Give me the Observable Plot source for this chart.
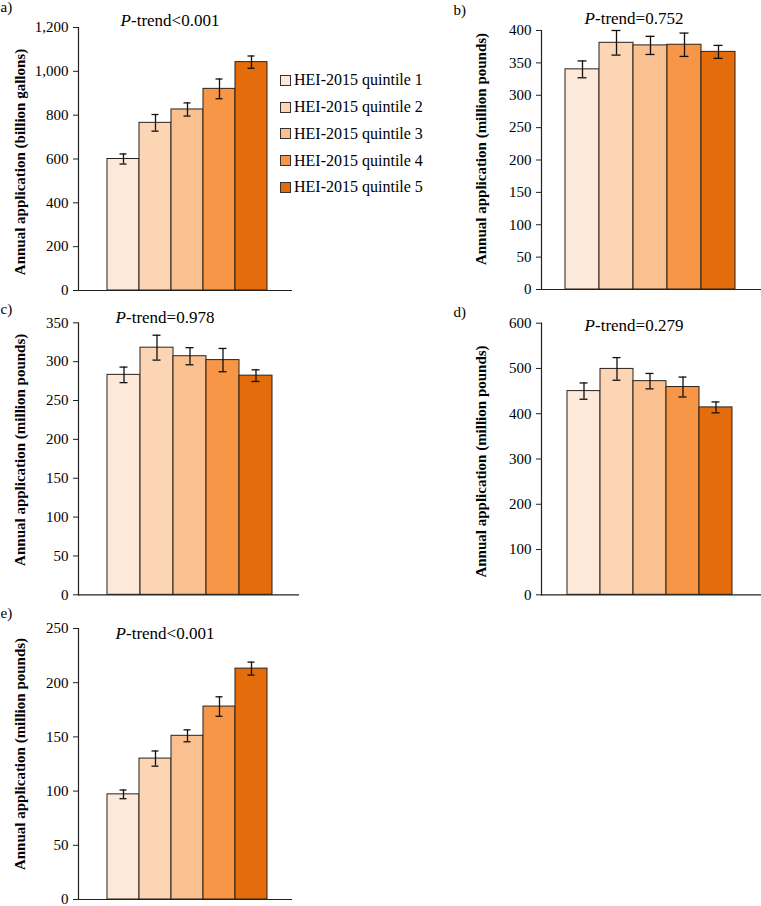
<!DOCTYPE html>
<html>
<head>
<meta charset="utf-8">
<script src="https://cdn.jsdelivr.net/npm/d3@7"></script>
<script src="https://cdn.jsdelivr.net/npm/@observablehq/plot@0.6"></script>
<style>
  html, body { margin: 0; padding: 0; background: #fff; }
  #wrap { position: relative; width: 761px; height: 906px; font-family: "Liberation Serif", "Times New Roman", serif; }
  #wrap svg { position: absolute; overflow: visible; }
  .legend { position: absolute; left: 280px; top: 67px; font-size: 16px; color: #000; }
  .legend .row { display: flex; align-items: center; height: 26.75px; }
  .legend .sw { width: 9px; height: 9px; border: 1px solid #333; margin-right: 3px; box-sizing: content-box; }
</style>
</head>
<body>
<div id="wrap"></div>
<script>
const categories = ["HEI-2015 quintile 1", "HEI-2015 quintile 2", "HEI-2015 quintile 3", "HEI-2015 quintile 4", "HEI-2015 quintile 5"];
const colors = ["#FDE9D9", "#FCD5B5", "#FAC090", "#F79646", "#E46C0A"];

const panelLetters = ["a)", "b)", "c)", "d)", "e)"];
const pTrends = ["-trend<0.001", "-trend=0.752", "-trend=0.978", "-trend=0.279", "-trend<0.001"];
const yTitles = [
  "Annual application (billion gallons)",
  "Annual application (million pounds)",
  "Annual application (million pounds)",
  "Annual application (million pounds)",
  "Annual application (million pounds)"
];

const aValues = [600, 765, 826, 920, 1042];
const aErrors = [23, 38, 30, 45, 28];
const aTicks = [0, 200, 400, 600, 800, 1000, 1200];

const bValues = [340, 381, 377, 378, 367];
const bErrors = [13, 19, 14, 18, 10];
const bTicks = [0, 50, 100, 150, 200, 250, 300, 350, 400];

const cValues = [283, 318, 307, 302, 282];
const cErrors = [10, 16, 11, 15, 7.5];
const cTicks = [0, 50, 100, 150, 200, 250, 300, 350];

const dValues = [450, 499, 472, 459, 414];
const dErrors = [18, 25, 17, 22, 12];
const dTicks = [0, 100, 200, 300, 400, 500, 600];

const eValues = [97, 130, 151, 178, 213];
const eErrors = [4, 7, 5.5, 9, 6];
const eTicks = [0, 50, 100, 150, 200, 250];

const wrap = document.getElementById("wrap");

function panel(cfg) {
  const rows = categories.map((c, i) => ({cat: c, value: cfg.values[i], lo: cfg.values[i] - cfg.errors[i], hi: cfg.values[i] + cfg.errors[i]}));
  const font = '"Liberation Serif", "Times New Roman", serif';
  const svg = Plot.plot({
    width: cfg.width,
    height: cfg.height,
    marginLeft: cfg.ml,
    marginRight: cfg.mr,
    marginTop: cfg.mt,
    marginBottom: cfg.mb,
    style: {fontFamily: font, fontSize: "15px", color: "#000", background: "transparent", overflow: "visible"},
    x: {type: "band", domain: categories, range: cfg.xr, paddingInner: 0, paddingOuter: 0, axis: null},
    y: {domain: [0, cfg.ticks[cfg.ticks.length - 1]]},
    color: {domain: categories, range: colors},
    marks: [
      Plot.barY(rows, {x: "cat", y: "value", fill: "cat", stroke: "#2b2118", strokeWidth: 1, inset: 0}),
      Plot.ruleX(rows, {x: "cat", y1: "lo", y2: "hi", stroke: "#111", strokeWidth: 1.3}),
      Plot.tickY(rows, {x: "cat", y: "lo", stroke: "#111", strokeWidth: 1.3, insetLeft: 12.5, insetRight: 12.5}),
      Plot.tickY(rows, {x: "cat", y: "hi", stroke: "#111", strokeWidth: 1.3, insetLeft: 12.5, insetRight: 12.5}),
      Plot.ruleY([0], {stroke: "#222", strokeWidth: 1.2}),
      Plot.frame({anchor: "left", stroke: "#222", strokeWidth: 1.2}),
      Plot.axisY({ticks: cfg.ticks, tickSize: 5, tickPadding: 5, label: null, fontSize: 15, stroke: "#222", tickFormat: d3.format(",")}),
      Plot.text([cfg.letter], {text: d => d, frameAnchor: "top-left", textAnchor: "start", lineAnchor: "middle", dx: cfg.letterDx, dy: cfg.letterDy, fontSize: 15}),
      Plot.text(["P"], {text: d => d, frameAnchor: "top-left", textAnchor: "start", lineAnchor: "middle", dx: cfg.pDx, dy: cfg.pDy, fontSize: 17, fontStyle: "italic"}),
      Plot.text([cfg.ptrend], {text: d => d, frameAnchor: "top-left", textAnchor: "start", lineAnchor: "middle", dx: cfg.pDx + 10.5, dy: cfg.pDy, fontSize: 17}),
      Plot.text([cfg.title], {text: d => d, frameAnchor: "left", textAnchor: "middle", lineAnchor: "middle", rotate: -90, dx: cfg.tDx, dy: cfg.tDy, fontSize: 15, fontWeight: "bold"})
    ]
  });
  svg.style.left = cfg.left + "px";
  svg.style.top = cfg.top + "px";
  wrap.appendChild(svg);
}

panel({values: aValues, errors: aErrors, ticks: aTicks, letter: panelLetters[0], ptrend: pTrends[0], title: yTitles[0],
  left: 0, top: 0, width: 380, height: 300, ml: 78, mr: 88, mt: 27, mb: 10, xr: [105, 268],
  letterDx: -78, letterDy: -20, pDx: 42, pDy: -7, tDx: -58, tDy: 3});
panel({values: bValues, errors: bErrors, ticks: bTicks, letter: panelLetters[1], ptrend: pTrends[1], title: yTitles[1],
  left: 380, top: 0, width: 381, height: 300, ml: 161, mr: 0, mt: 30, mb: 11, xr: [185, 355],
  letterDx: -88, letterDy: -20, pDx: 43, pDy: -12, tDx: -60, tDy: -11});
panel({values: cValues, errors: cErrors, ticks: cTicks, letter: panelLetters[2], ptrend: pTrends[2], title: yTitles[2],
  left: 0, top: 300, width: 380, height: 300, ml: 78, mr: 81, mt: 22.3, mb: 5.7, xr: [105, 274],
  letterDx: -78, letterDy: -14, pDx: 37, pDy: -5, tDx: -58, tDy: -9});
panel({values: dValues, errors: dErrors, ticks: dTicks, letter: panelLetters[3], ptrend: pTrends[3], title: yTitles[3],
  left: 380, top: 300, width: 381, height: 300, ml: 161, mr: 0, mt: 22.7, mb: 5.7, xr: [186, 353],
  letterDx: -88, letterDy: -10.7, pDx: 43, pDy: 2, tDx: -60, tDy: 2.5});
panel({values: eValues, errors: eErrors, ticks: eTicks, letter: panelLetters[4], ptrend: pTrends[4], title: yTitles[4],
  left: 0, top: 600, width: 380, height: 306, ml: 78, mr: 88, mt: 28, mb: 7, xr: [105, 268],
  letterDx: -78, letterDy: -15, pDx: 37, pDy: 5, tDx: -58, tDy: -10});

// Legend
const legend = document.createElement("div");
legend.className = "legend";
categories.forEach((c, i) => {
  const row = document.createElement("div");
  row.className = "row";
  const sw = document.createElement("span");
  sw.className = "sw";
  sw.style.background = colors[i];
  const label = document.createElement("span");
  label.textContent = c;
  row.appendChild(sw);
  row.appendChild(label);
  legend.appendChild(row);
});
wrap.appendChild(legend);
</script>
</body>
</html>
